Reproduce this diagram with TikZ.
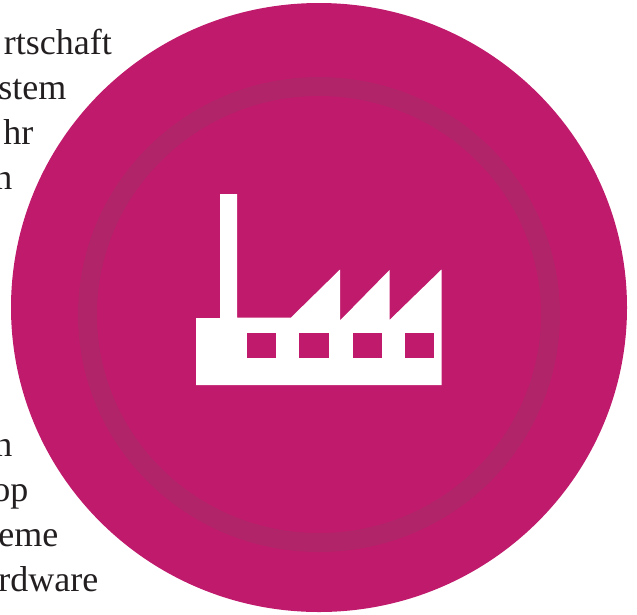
\documentclass[tikz,border=0pt]{standalone}
\usepackage{fontspec}
\setmainfont{Liberation Serif}
\definecolor{disc}{RGB}{192,26,108}
\definecolor{ringc}{RGB}{178,36,106}
\definecolor{inktext}{RGB}{35,31,32}
\tikzset{
  x=1pt,y=-1pt,
  bodytext/.style={anchor=base east,inner sep=0pt,text=inktext,font=\fontsize{36}{36}\selectfont},
  hole/.style={fill=disc,draw=none},
}
\begin{document}
\begin{tikzpicture}
\useasboundingbox (0,0) rectangle (637,614);
\node[bodytext] (t1) at (112,54) {rtschaft};
\node[bodytext] (t2) at (66.5,99) {stem};
\node[bodytext] (t3) at (33.5,144) {hr};
\node[bodytext] (t4) at (12.5,189) {n};
\node[bodytext] (t5) at (12.5,456.5) {n};
\node[bodytext] (t6) at (28.5,501.5) {op};
\node[bodytext] (t7) at (58.5,546.5) {eme};
\node[bodytext] (t8) at (98.5,591.5) {rdware};
% disc and ring
\fill[disc] (319,307.5) ellipse [x radius=308,y radius=304.5];
\draw[ringc,line width=19pt] (319,314.5) ellipse [x radius=231.5,y radius=228];
% factory
\fill[white] (196,318) -- (220,318) -- (220,194) -- (237,194) -- (237,317.5) -- (291,317.5)
  -- (340,269.5) -- (340,320.5) -- (389.5,270) -- (389.5,320) -- (441.5,269.5)
  -- (441.5,385) -- (196,385) -- cycle;
\fill[hole] (246.5,333) rectangle (275.5,358);
\fill[hole] (299,333) rectangle (328.5,358);
\fill[hole] (353,333) rectangle (382,358);
\fill[hole] (404.5,333) rectangle (433.5,358);
\end{tikzpicture}
\end{document}
